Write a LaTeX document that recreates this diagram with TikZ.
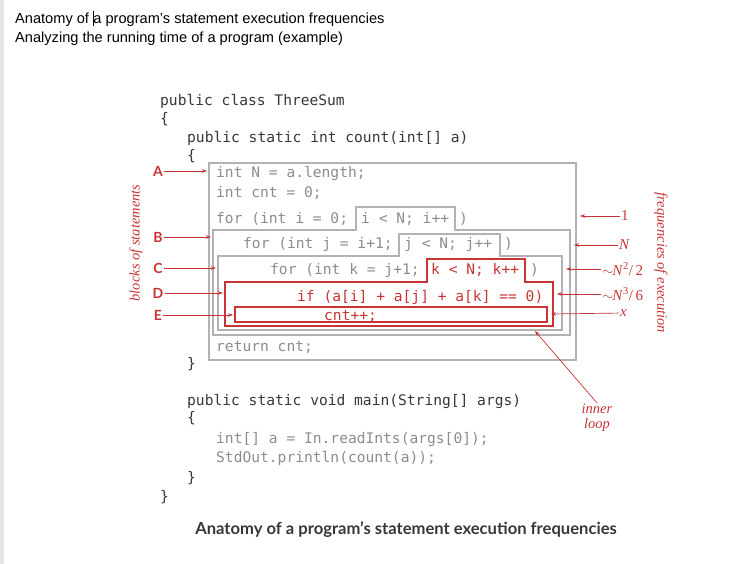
\documentclass[tikz,border=0pt]{standalone}
\usepackage{fontspec}
\setmainfont{Liberation Serif}
\setsansfont{Liberation Sans}
\setmonofont{DejaVu Sans Mono}
\newfontfamily\labelfont{Lato}
\usetikzlibrary{positioning,arrows.meta}

\definecolor{codeblack}{RGB}{55,55,55}
\definecolor{codegray}{RGB}{140,140,140}
\definecolor{boxgray}{RGB}{178,178,178}
\definecolor{annred}{RGB}{200,52,52}
\definecolor{stripgray}{RGB}{230,230,230}

\begin{document}
\begin{tikzpicture}[
  x=1pt, y=-1pt,
  code/.style={anchor=west, inner sep=0pt, text=codeblack, yshift=-2.5pt,
               font=\fontsize{14.6}{16}\selectfont\ttfamily,
               text height=10pt, text depth=3pt},
  stmt/.style={code, text=codegray},
  hot/.style={code, text=annred},
  block/.style={draw=boxgray, line width=1.1pt},
  hotblock/.style={draw=annred, line width=1.1pt},
  letter/.style={font=\fontsize{14}{14}\selectfont\labelfont\bfseries,
                 text=annred, inner sep=1pt},
  freq/.style={font=\fontsize{15}{15}\selectfont, text=annred,
               inner sep=1pt, anchor=west},
  note/.style={font=\fontsize{14.5}{15}\selectfont\itshape, text=annred},
  ptr/.style={-{Stealth[length=5pt,width=3.5pt]}, draw=annred, line width=0.7pt},
  >=Stealth
]
  \useasboundingbox (0,0) rectangle (733,564);
  \fill[stripgray] (0,0) rectangle (4,564);

  % page header
  \node[anchor=west, inner sep=0pt, font=\fontsize{14.6}{16}\selectfont\sffamily]
    (head1) at (15,19)
    {Anatomy of {\vrule width 1.3pt height 12pt depth 3pt}\kern-1pt a program's statement execution frequencies};
  \node[anchor=west, inner sep=0pt, font=\fontsize{14.6}{16}\selectfont\sffamily]
    (head2) at (15,39) {Analyzing the running time of a program (example)};

  % blocks of statements
  \draw[block] (209,163) rectangle (576,360);
  \draw[block] (213,230) -- (356,230) -- (356,207) -- (455,207) -- (455,230)
    -- (570,230) -- (570,335) -- (213,335) -- cycle;
  \draw[block] (218,256) -- (399,256) -- (399,234) -- (500,234) -- (500,256)
    -- (562,256) -- (562,330) -- (218,330) -- cycle;
  \draw[hotblock] (225,282) -- (427,282) -- (427,259) -- (525,259) -- (525,282)
    -- (553,282) -- (553,326) -- (225,326) -- cycle;
  \draw[hotblock] (235,307) rectangle (547,322);

  % code
  \node[code] (cls) at (160,100) {public class ThreeSum};
  \node[code] (ob1) at (160,118) {\{};
  \node[code] (cnt) at (187,137) {public static int count(int[] a)};
  \node[code] (ob2) at (187,155) {\{};
  \node[stmt] (s1) at (216,172) {int N = a.length;};
  \node[stmt] (s2) at (216,191) {int cnt = 0;};
  \node[stmt] (fi) at (216,217) {for (int i = 0;};
  \node[stmt] (ti) at (361,217) {i < N; i++};
  \node[stmt] (ci) at (459,217) {)};
  \node[stmt] (fj) at (243,242) {for (int j = i+1;};
  \node[stmt] (tj) at (404,242) {j < N; j++};
  \node[stmt] (cj) at (504,242) {)};
  \node[stmt] (fk) at (270,268) {for (int k = j+1;};
  \node[hot]  (tk) at (431,268) {k < N; k++};
  \node[stmt] (ck) at (530,268) {)};
  \node[hot]  (ifs) at (297,295) {if (a[i] + a[j] + a[k] == 0)};
  \node[hot]  (inc) at (324,314) {cnt++;};
  \node[stmt] (ret) at (216,345) {return cnt;};
  \node[code] (cb2) at (187,362) {\}};
  \node[code] (mn) at (187,399) {public static void main(String[] args)};
  \node[code] (ob3) at (187,416) {\{};
  \node[stmt] (rd) at (216,437) {int[] a = In.readInts(args[0]);};
  \node[stmt] (pr) at (216,456) {StdOut.println(count(a));};
  \node[code] (cb3) at (187,476) {\}};
  \node[code] (cb1) at (160,495) {\}};

  % block labels
  \node[letter] (labA) at (158,171) {A};
  \node[letter] (labB) at (158,237) {B};
  \node[letter] (labC) at (158,268) {C};
  \node[letter] (labD) at (158,293) {D};
  \node[letter] (labE) at (158,315) {E};
  \coordinate (inA) at (207,171);
  \coordinate (inB) at (211,237);
  \coordinate (inC) at (216,268);
  \coordinate (inD) at (223,293);
  \coordinate (inE) at (233,315);
  \draw[ptr] (labA) -- (inA);
  \draw[ptr] (labB) -- (inB);
  \draw[ptr] (labC) -- (inC);
  \draw[ptr] (labD) -- (inD);
  \draw[ptr] (labE) -- (inE);
  \node[note, rotate=90] (blk) at (136,243) {blocks of statements};

  % frequencies
  \node[freq] (fA) at (620,216) {1};
  \node[freq] (fB) at (618,245) {\textit{N}};
  \node[freq] (fC) at (601,269) {$\sim$\kern-1pt\textit{N}\textsuperscript{2}/\,2};
  \node[freq] (fD) at (601,294) {$\sim$\kern-1pt\textit{N}\textsuperscript{3}/\,6};
  \node[freq] (fE) at (619,313) {\textit{x}};
  \coordinate (outA) at (580,216);
  \coordinate (outB) at (574,245);
  \coordinate (outC) at (566,269);
  \coordinate (outD) at (557,294);
  \coordinate (outE) at (551,314);
  \draw[ptr] (fA) -- (outA);
  \draw[ptr] (fB) -- (outB);
  \draw[ptr] (fC) -- (outC);
  \draw[ptr] (fD) -- (outD);
  \draw[ptr] (fE) -- (outE);
  \node[note, rotate=-90] (frq) at (661,263) {frequencies of execution};

  % inner loop
  \node[note, align=center, inner sep=1pt] (inl) at (597,418) {inner\\loop};
  \coordinate (inlTip) at (535,331);
  \draw[ptr] (inl.north) -- (inlTip);

  % caption
  \node[font=\fontsize{16.6}{18}\selectfont\labelfont\bfseries, text=codeblack]
    (cap) at (406,530) {Anatomy of a program’s statement execution frequencies};
\end{tikzpicture}
\end{document}
